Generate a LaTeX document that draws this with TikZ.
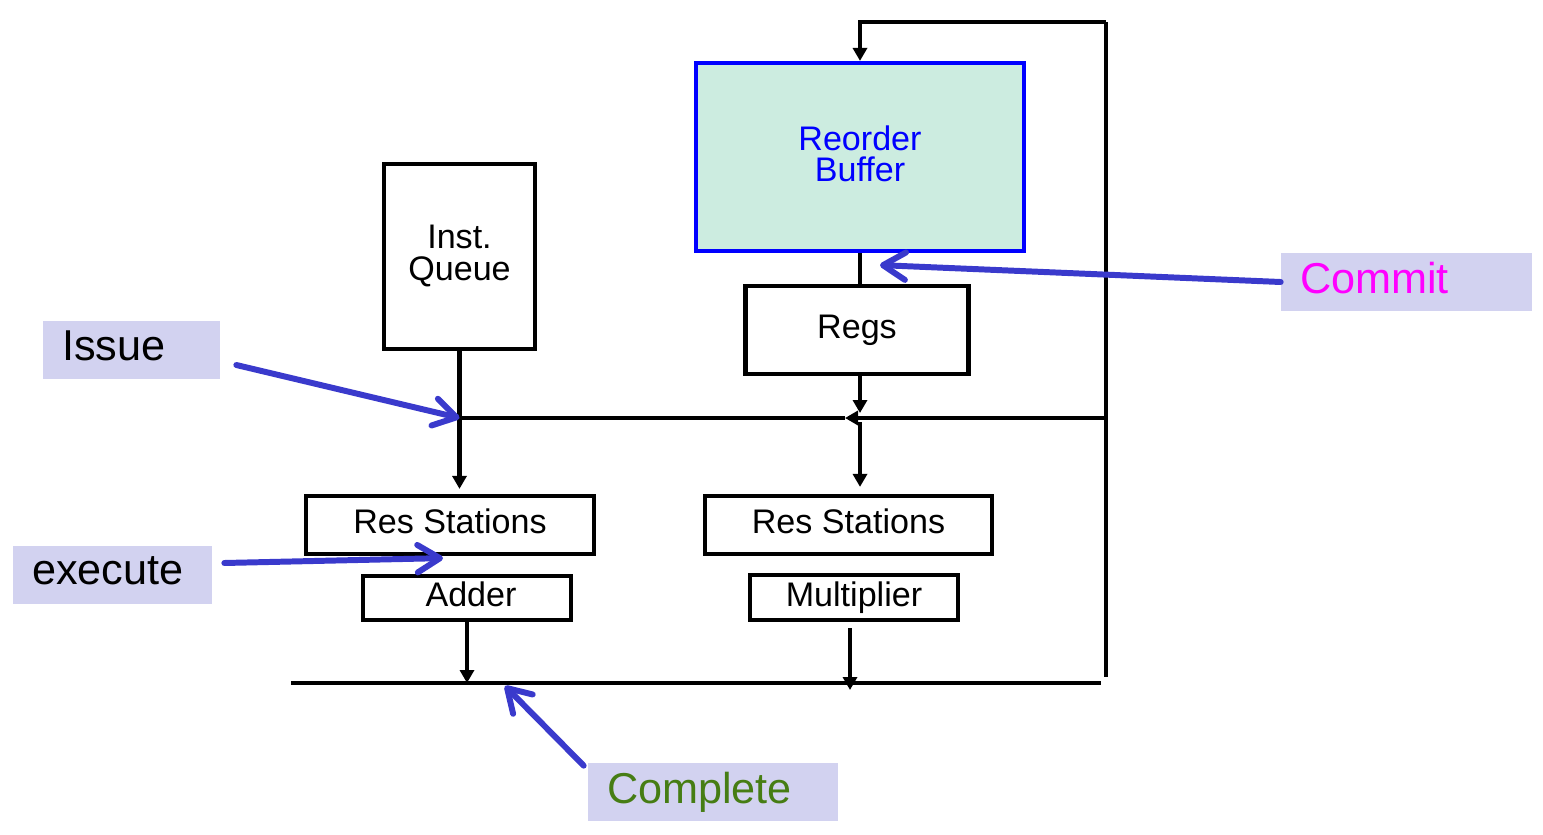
\documentclass[tikz,border=0pt]{standalone}
\usepackage{fontspec}
\setmainfont{Liberation Sans}
\usetikzlibrary{arrows.meta,positioning}
\definecolor{robfill}{RGB}{204,236,224}
\definecolor{notefill}{RGB}{210,210,240}
\definecolor{noteline}{RGB}{58,58,204}
\definecolor{greentext}{RGB}{70,125,20}
\definecolor{committext}{RGB}{255,0,255}
\tikzset{
  unit/.style={draw,line width=2.4pt,inner sep=0pt,align=center,text depth=0.14cm,
    font=\fontsize{19.4pt}{18pt}\selectfont},
  note/.style={fill=notefill,inner xsep=0.38cm,inner ysep=0pt,text depth=0.16cm,
    minimum height=1.16cm,align=left,font=\fontsize{24.6pt}{26pt}\selectfont},
  bus/.style={line width=2.4pt},
  feed/.style={bus,-{Triangle[length=0.26cm,width=0.28cm]}},
  pointer/.style={line width=3.4pt,color=noteline,line cap=round,
    -{Straight Barb[length=0.45cm,width=0.55cm,round]}}
}
\begin{document}
\begin{tikzpicture}[x=0.02cm,y=-0.02cm]
\useasboundingbox (0,0) rectangle (1543,835);
% blocks
\node[unit,fill=robfill,draw=blue,text=blue,minimum width=6.56cm,minimum height=3.76cm] (rob) at (860,157) {Reorder\\Buffer};
\node[unit,minimum width=3.02cm,minimum height=3.7cm] (iq) at (459.5,256.5) {Inst.\\Queue};
\node[unit,minimum width=4.46cm,minimum height=1.76cm] (regs) at (857,330) {Regs};
\node[unit,minimum width=5.76cm,minimum height=1.16cm] (rsadd) at (450,525) {Res Stations};
\node[unit,minimum width=5.74cm,minimum height=1.16cm] (rsmul) at (848.5,525) {Res Stations};
\node[unit,minimum width=4.16cm,minimum height=0.88cm] (adder) at (467,598) {\hspace{0.16cm}Adder};
\node[unit,minimum width=4.16cm,minimum height=0.9cm] (mult) at (854,597.5) {Multiplier};
% bus corners
\coordinate (fbtop) at (1106,22);
\coordinate (fbbot) at (1106,677);
\coordinate (busr) at (1106,418);
\coordinate (busl) at (iq.south |- busr);
\coordinate (bustip) at (845,418);
\coordinate (cdbl) at (291,683);
\coordinate (cdbr) at (1101,683);
\coordinate (cdbhit) at (505,686);
\coordinate (multout) at (850,628);
% wires
\draw[bus] (fbtop) -- (fbbot);
\draw[feed] (fbtop) -- (fbtop -| rob.north) -- (rob.north);
\draw[feed] (busr) -- (bustip);
\draw[bus] (bustip) -- (busl);
\draw[feed,shorten >=0.1cm] (iq.south) -- (iq.south |- rsadd.north);
\draw[bus] (rob.south) -- (rob.south |- regs.north);
\draw[feed,shorten >=0.1cm] (rob.south |- regs.south) -- (rob.south |- busr);
\draw[feed,shorten <=0.08cm,shorten >=0.14cm] (rob.south |- busr) -- (rob.south |- rsmul.north);
\draw[feed] (adder.south) -- (adder.south |- cdbl);
\draw[feed,shorten >=-0.14cm] (multout) -- (multout |- cdbl);
\draw[bus] (cdbl) -- (cdbr);
% stage labels
\node[note,text width=2.78cm] (issue) at (131.5,350) {Issue};
\node[note,text width=3.22cm] (exec) at (112.5,575) {execute};
\node[note,text width=4.26cm,text=committext] (commit) at (1406.5,282) {Commit};
\node[note,text width=4.24cm,text=greentext] (complete) at (713,792) {Complete};
\draw[pointer] ([shift={(16,15)}]issue.east) -- (busl);
\draw[pointer] ([shift={(12,-12)}]exec.east) -- ([shift={(-7,2)}]rsadd.south);
\draw[pointer] (commit.west) -- ([shift={(20,12)}]rob.south);
\draw[pointer] ([shift={(-4,3)}]complete.north west) -- (cdbhit);
\end{tikzpicture}
\end{document}
